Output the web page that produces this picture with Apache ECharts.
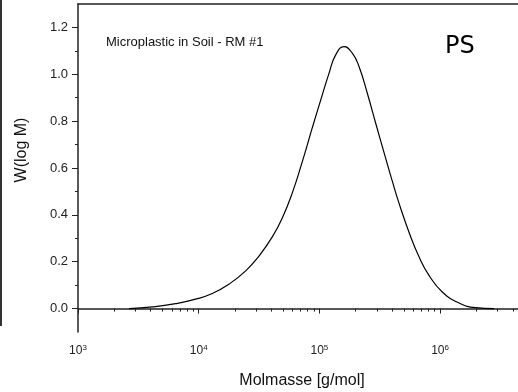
<!DOCTYPE html>
<html>
<head>
<meta charset="utf-8">
<script src="https://cdn.jsdelivr.net/npm/echarts@6/dist/echarts.min.js"></script>
<style>
  html, body { margin: 0; padding: 0; background: #fff; }
  #chart { width: 518px; height: 392px; }
</style>
</head>
<body>
<div id="chart"></div>
<script>
// Molar mass distribution, GPC trace
const molmass = [2650, 4130, 6450, 9440, 12960, 17820, 24510, 31590, 40720, 49270,
  59650, 72170, 87350, 102500, 120100, 136500, 159900, 187300, 212900, 249400,
  292700, 354300, 399500, 456500, 552500, 668700, 809100, 1042800, 1434000, 1972000, 2797000];
const wlogM = [0.000, 0.007, 0.021, 0.040, 0.064, 0.104, 0.161, 0.224, 0.306, 0.387,
  0.494, 0.627, 0.772, 0.890, 1.004, 1.083, 1.118, 1.090, 1.033, 0.919,
  0.791, 0.641, 0.548, 0.450, 0.326, 0.221, 0.142, 0.071, 0.024, 0.004, 0.000];

const xMajorTicks = [1e3, 1e4, 1e5, 1e6];
const xMinorTicks = [2e3, 3e3, 4e3, 5e3, 6e3, 7e3, 8e3, 9e3,
  2e4, 3e4, 4e4, 5e4, 6e4, 7e4, 8e4, 9e4,
  2e5, 3e5, 4e5, 5e5, 6e5, 7e5, 8e5, 9e5,
  2e6, 3e6, 4e6];
const yMajorTicks = [0, 0.2, 0.4, 0.6, 0.8, 1.0, 1.2];
const yMinorTicks = [0.1, 0.3, 0.5, 0.7, 0.9, 1.1];

const xMin = 1e3, xMax = 4.42e6;
const yMin = -0.1, yMax = 1.3;

const axisColor = '#222';
const font = '"Liberation Sans", Arial, sans-serif';

const chart = echarts.init(document.getElementById('chart'), null, { renderer: 'canvas' });

const baseX = {
  type: 'log', logBase: 10, min: xMin, max: xMax, position: 'bottom',
  splitLine: { show: false }, minorTick: { show: false }, minorSplitLine: { show: false }
};
const baseY = {
  type: 'value', min: yMin, max: yMax, position: 'left',
  splitLine: { show: false }
};

chart.setOption({
  animation: false,
  backgroundColor: '#fff',
  grid: { left: 78, right: 0, top: 4, bottom: 60, containLabel: false, outerBoundsMode: 'none' },
  xAxis: [
    Object.assign({}, baseX, {
      axisLine: { show: true, lineStyle: { color: axisColor, width: 1.5 } },
      axisTick: { show: true, inside: false, length: 5, customValues: xMajorTicks, lineStyle: { color: axisColor, width: 1 } },
      axisLabel: {
        show: true, margin: 12, customValues: xMajorTicks,
        formatter: v => '{b|10}{e|' + Math.round(Math.log10(v)) + '}',
        rich: {
          b: { fontFamily: font, fontSize: 12, color: '#222', lineHeight: 14 },
          e: { fontFamily: font, fontSize: 8, color: '#222', verticalAlign: 'top', lineHeight: 8 }
        }
      }
    }),
    Object.assign({}, baseX, {
      axisLine: { show: false },
      axisTick: { show: true, inside: false, length: 3, customValues: xMinorTicks, lineStyle: { color: axisColor, width: 1 } },
      axisLabel: { show: false }
    }),
    Object.assign({}, baseX, {
      position: 'top',
      axisLine: { show: true, lineStyle: { color: axisColor, width: 1.5 } },
      axisTick: { show: false },
      axisLabel: { show: false }
    })
  ],
  yAxis: [
    Object.assign({}, baseY, {
      axisLine: { show: true, lineStyle: { color: axisColor, width: 1.5 } },
      axisTick: { show: true, inside: false, length: 6, customValues: yMajorTicks, lineStyle: { color: axisColor, width: 1 } },
      axisLabel: {
        show: true, margin: 10, customValues: yMajorTicks,
        formatter: v => v.toFixed(1),
        fontFamily: font, fontSize: 13, color: '#222'
      }
    }),
    Object.assign({}, baseY, {
      axisLine: { show: false },
      axisTick: { show: true, inside: false, length: 3, customValues: yMinorTicks, lineStyle: { color: axisColor, width: 1 } },
      axisLabel: { show: false }
    })
  ],
  graphic: [
    { type: 'rect', shape: { x: 0, y: 0, width: 2, height: 326 }, style: { fill: '#333' } },
    { type: 'text', x: 302, y: 381, style: { text: 'Molmasse [g/mol]', font: '16px ' + font, fill: '#111', align: 'center', verticalAlign: 'middle' } },
    { type: 'text', x: 22, y: 150, rotation: Math.PI / 2, style: { text: 'W(log M)', font: '16px ' + font, fill: '#111', align: 'center', verticalAlign: 'middle' } },
    { type: 'text', x: 106, y: 42, style: { text: 'Microplastic in Soil - RM #1', font: '13px ' + font, fill: '#111', align: 'left', verticalAlign: 'middle' } },
    { type: 'text', x: 445, y: 47, style: { text: 'PS', font: '24px "DejaVu Sans", sans-serif', fill: '#000', align: 'left', verticalAlign: 'middle' } }
  ],
  series: [{
    type: 'line',
    xAxisIndex: 0, yAxisIndex: 0,
    data: molmass.map((m, i) => [m, wlogM[i]]),
    showSymbol: false,
    smooth: 0.5,
    lineStyle: { color: '#000', width: 1.2 },
    silent: true
  }]
});
</script>
</body>
</html>
